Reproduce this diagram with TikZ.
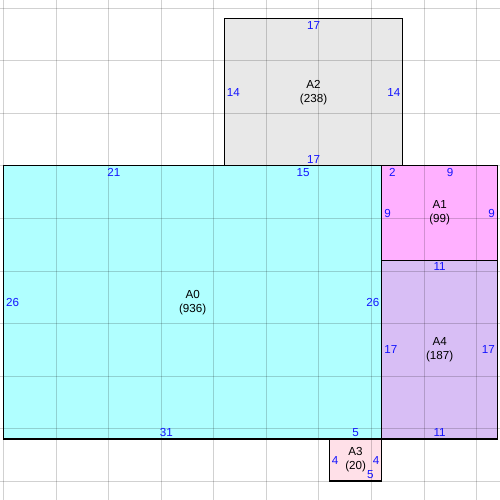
\documentclass[tikz,border=0pt]{standalone}
\usepackage{fontspec}
\setmainfont{Liberation Sans}
\usetikzlibrary{positioning}
\definecolor{regzero}{RGB}{176,255,255}
\definecolor{regone}{RGB}{255,176,255}
\definecolor{regtwo}{RGB}{232,232,232}
\definecolor{regthree}{RGB}{255,224,232}
\definecolor{regfour}{RGB}{216,190,245}
\definecolor{sidenum}{RGB}{20,20,255}
\tikzset{
  sidelbl/.style={text=sidenum, inner sep=1.2pt},
  arealbl/.style={align=center, inner sep=0pt},
}
\begin{document}
\begin{tikzpicture}[scale=0.2, font=\fontsize{6.3}{7.6}\selectfont]
    \useasboundingbox (-0.333,-5.80) rectangle (47.24,41.77);
    \fill[white] (-0.333,-5.80) rectangle (47.24,41.77);
    
    % Regions
    \fill[regzero] (0,0) rectangle (36,26);
    \fill[regone] (36,17) rectangle (47,26);
    \fill[regtwo] (21,26) rectangle (38,40);
    \fill[regthree] (31,-4) rectangle (36,0);
    \fill[regfour] (36,0) rectangle (47,17);
    
    % Grid
    \foreach \x in {0,5,...,45} {
        \draw[black, opacity=0.18, line width=0.35pt] (\x,-5.80) -- (\x,41.77);
    }
    \foreach \y in {-4,1,...,41} {
        \draw[black, opacity=0.18, line width=0.35pt] (-0.333,\y) -- (47.24,\y);
    }
    
    % Borders
    \draw[line width=0.6pt] (0,0) rectangle (36,26);
    \draw[line width=0.6pt] (36,17) rectangle (47,26);
    \draw[line width=0.6pt] (21,26) rectangle (38,40);
    \draw[line width=0.6pt] (31,-4) rectangle (36,0);
    \draw[line width=0.6pt] (36,0) rectangle (47,17);
    
    % A0
    \node[arealbl] (nA0) at (18,13) {A0\\(936)};
    \node[sidelbl, anchor=north] (a0t1) at (10.5,26) {21};
    \node[sidelbl, anchor=north] (a0t2) at (28.5,26) {15};
    \node[sidelbl, anchor=west] (a0l) at (0,13) {26};
    \node[sidelbl, anchor=east] (a0r) at (36,13) {26};
    \node[sidelbl, anchor=south] (a0b1) at (15.5,0) {31};
    \node[sidelbl, anchor=south] (a0b2) at (33.5,0) {5};
    
    % A1
    \node[arealbl] (nA1) at (41.5,21.5) {A1\\(99)};
    \node[sidelbl, anchor=north] (a1t1) at (37,26) {2};
    \node[sidelbl, anchor=north] (a1t2) at (42.5,26) {9};
    \node[sidelbl, anchor=west] (a1l) at (36,21.5) {9};
    \node[sidelbl, anchor=east] (a1r) at (47,21.5) {9};
    
    % A2
    \node[arealbl] (nA2) at (29.5,33) {A2\\(238)};
    \node[sidelbl, anchor=north] (a2t) at (29.5,40) {17};
    \node[sidelbl, anchor=south] (a2b) at (29.5,26) {17};
    \node[sidelbl, anchor=west] (a2l) at (21,33) {14};
    \node[sidelbl, anchor=east] (a2r) at (38,33) {14};
    
    % A3
    \node[arealbl] (nA3) at (33.5,-2) {A3\\(20)};
    \node[sidelbl, anchor=west] (a3l) at (31,-2) {4};
    \node[sidelbl, anchor=east] (a3r) at (36,-2) {4};
    \node[sidelbl, anchor=south] (a3b) at (34.9,-4) {5};
    
    % A4
    \node[arealbl] (nA4) at (41.5,8.5) {A4\\(187)};
    \node[sidelbl, anchor=north] (a4t) at (41.5,17) {11};
    \node[sidelbl, anchor=south] (a4b) at (41.5,0) {11};
    \node[sidelbl, anchor=west] (a4l) at (36,8.5) {17};
    \node[sidelbl, anchor=east] (a4r) at (47,8.5) {17};
    
\end{tikzpicture}
\end{document}
